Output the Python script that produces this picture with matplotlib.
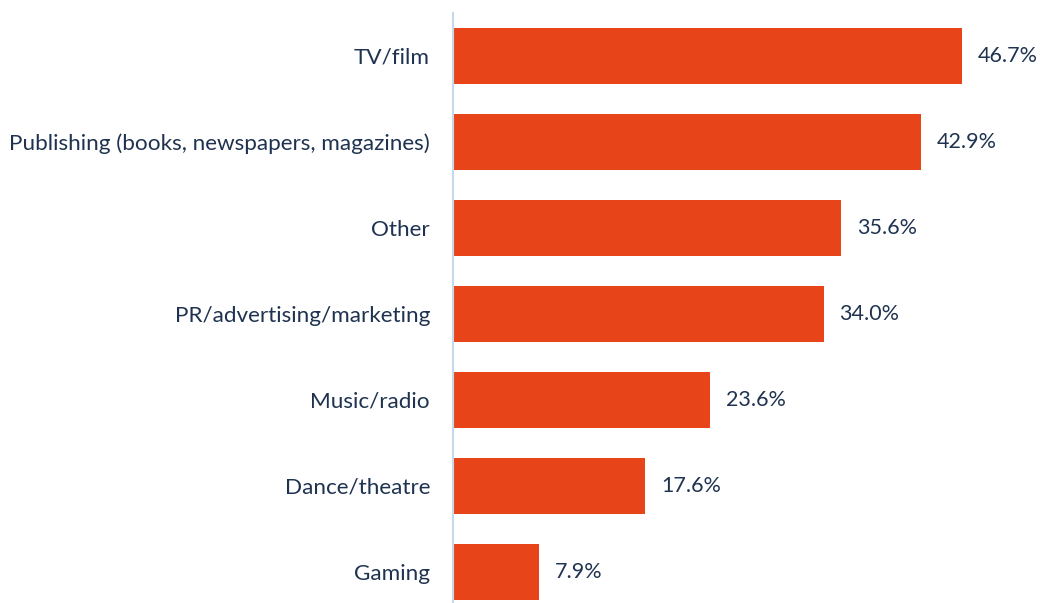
import matplotlib.pyplot as plt

categories = ["TV/film", "Publishing (books, newspapers, magazines)", "Other",
              "PR/advertising/marketing", "Music/radio", "Dance/theatre", "Gaming"]
values = [46.7, 42.9, 35.6, 34.0, 23.6, 17.6, 7.9]

bar_color = "#E8441A"
text_color = "#1F3350"
axis_color = "#C8D8EC"

plt.rcParams['font.family'] = ['Lato', 'DejaVu Sans']

fig = plt.figure(figsize=(10.4, 6.03), dpi=100)
px = 10.9  # pixels per percentage point
xmax = 53
ax = fig.add_axes([453 / 1040, -12 / 603, xmax * px / 1040, 602 / 603])

y = list(range(len(categories)))
ax.barh(y, values, height=0.66, color=bar_color)
ax.set_ylim(len(categories) - 0.5, -0.5)
ax.set_xlim(0, xmax)

ax.set_yticks(y)
ax.set_yticklabels(categories, fontsize=16.2, color=text_color)
ax.tick_params(axis='y', length=0, pad=16.5)
ax.set_xticks([])

for i, v in enumerate(values):
    ax.annotate(f"{v:.1f}%", (v, i), xytext=(11.5, 0), textcoords='offset points',
                va='center', ha='left', fontsize=15.5, color=text_color)

for s in ['top', 'right', 'bottom']:
    ax.spines[s].set_visible(False)
ax.spines['left'].set_color(axis_color)
ax.spines['left'].set_linewidth(1.5)

fig.savefig("out.png", dpi=100)
